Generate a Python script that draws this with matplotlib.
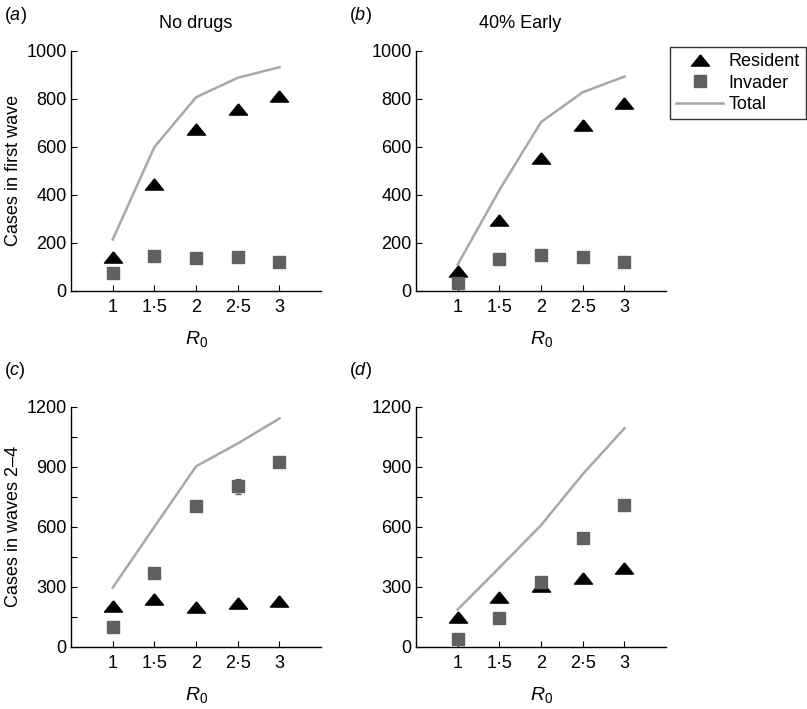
import matplotlib
matplotlib.use("Agg")
import matplotlib.pyplot as plt
from matplotlib.ticker import MultipleLocator, FixedLocator
from matplotlib.lines import Line2D

plt.rcParams['font.family'] = ['Liberation Sans', 'DejaVu Sans']
plt.rcParams['mathtext.fontset'] = 'custom'
plt.rcParams['mathtext.rm'] = 'Liberation Sans'
plt.rcParams['mathtext.it'] = 'Liberation Sans:italic'

r0 = [1, 1.5, 2, 2.5, 3]
r0_labels = ['1', '1·5', '2', '2·5', '3']

# panel (a): no drugs, first wave
a_resident = [140, 447, 675, 758, 813]
a_invader = [76, 147, 136, 140, 119]
a_total = [214, 599, 806, 887, 931]

# panel (b): 40% early, first wave
b_resident = [84, 297, 553, 689, 781]
b_invader = [35, 131, 151, 140, 120]
b_total = [110, 420, 703, 827, 892]

# panel (c): no drugs, waves 2-4
c_resident = [204, 238, 199, 218, 229]
c_invader = [99, 367, 706, 802, 922]
c_invader_err = [0, 0, 0, 36, 0]
c_total = [296, 600, 902, 1016, 1141]

# panel (d): 40% early, waves 2-4
d_resident = [150, 250, 304, 342, 396]
d_invader = [40, 145, 324, 546, 711]
d_total = [187, 396, 608, 863, 1092]

TRI = 'black'
SQ = '#606060'
LN = '#a8a8a8'
# flat triangle like the original print
tri = [(0, 0.62), (-1, -0.62), (1, -0.62), (0, 0.62)]
TRI_MS = 13
SQ_MS = 8

fig = plt.figure(figsize=(8.07, 7.09), dpi=100)

L1, L2, W = 0.088, 0.5155, 0.310
B_top, B_bot, H = 0.5896, 0.0875, 0.339


def panel(rect, res, inv, tot, ymax, major, minor=None, inv_err=None):
    ax = fig.add_axes(rect)
    ax.plot(r0, tot, color=LN, lw=1.8, zorder=1)
    ax.plot(r0, res, linestyle='none', marker=tri, ms=TRI_MS, color=TRI, zorder=3)
    if inv_err is not None:
        ax.errorbar(r0, inv, yerr=inv_err, fmt='none', ecolor=SQ, elinewidth=1,
                    capsize=2, zorder=2)
    ax.plot(r0, inv, linestyle='none', marker='s', ms=SQ_MS, color=SQ, zorder=4)
    ax.set_xlim(0.5, 3.5)
    ax.set_ylim(0, ymax)
    ax.xaxis.set_major_locator(FixedLocator(r0))
    ax.set_xticklabels(r0_labels)
    ax.yaxis.set_major_locator(MultipleLocator(major))
    if minor:
        ax.yaxis.set_minor_locator(MultipleLocator(minor))
        ax.tick_params(axis='y', which='minor', direction='in', length=4, width=0.8)
    for s in ['top', 'right']:
        ax.spines[s].set_visible(False)
    for s in ['left', 'bottom']:
        ax.spines[s].set_linewidth(1.0)
    ax.tick_params(which='major', direction='in', length=4, width=0.8, labelsize=13)
    ax.tick_params(axis='y', pad=3)
    ax.tick_params(axis='x', pad=6)
    ax.set_xlabel('$R_0$', fontsize=14, labelpad=9)
    return ax


ax_a = panel([L1, B_top, W, H], a_resident, a_invader, a_total, 1000, 200)
ax_b = panel([L2, B_top, W, H], b_resident, b_invader, b_total, 1000, 200)
ax_c = panel([L1, B_bot, W, H], c_resident, c_invader, c_total, 1200, 300, 150, c_invader_err)
ax_d = panel([L2, B_bot, W, H], d_resident, d_invader, d_total, 1200, 300, 150)

ax_a.set_ylabel('Cases in first wave', fontsize=13)
ax_c.set_ylabel('Cases in waves 2–4', fontsize=13)
ax_a.yaxis.set_label_coords(-0.196, 0.5)
ax_c.yaxis.set_label_coords(-0.196, 0.5)

for x, y, letter in [(0.005, 0.978, 'a'), (0.432, 0.978, 'b'),
                     (0.005, 0.478, 'c'), (0.432, 0.478, 'd')]:
    fig.text(x, y, '(' + r'$\it{' + letter + '}$' + ')', fontsize=13, va='center')

fig.text(0.242, 0.967, 'No drugs', fontsize=13, ha='center', va='center')
fig.text(0.645, 0.967, '40% Early', fontsize=13, ha='center', va='center')

handles = [Line2D([], [], linestyle='none', marker=tri, ms=TRI_MS, color=TRI),
           Line2D([], [], linestyle='none', marker='s', ms=SQ_MS, color=SQ),
           Line2D([], [], color=LN, lw=1.8)]
leg = fig.legend(handles, ['Resident', 'Invader', 'Total'], loc='upper right',
                 bbox_to_anchor=(0.999, 0.934), borderaxespad=0, fontsize=13,
                 frameon=True, fancybox=False, edgecolor='black', handlelength=2.6,
                 labelspacing=0.25, borderpad=0.35, handletextpad=0.3)
leg.get_frame().set_linewidth(1.0)

fig.savefig('out.png', dpi=100)
